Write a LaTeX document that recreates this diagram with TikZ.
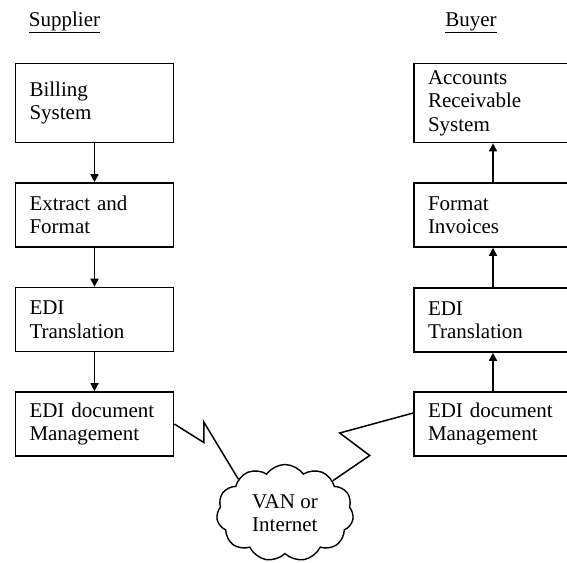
\documentclass[tikz,border=0pt]{standalone}
\usepackage{fontspec}
\setmainfont{Liberation Serif}
\usetikzlibrary{arrows.meta,shapes.symbols}

\begin{document}
\begin{tikzpicture}[x=1pt,y=-1pt,>={Triangle[length=8pt,width=8pt]},
    every node/.style={font=\fontsize{21}{23.5}\selectfont},
    box/.style={draw,line width=1.6pt,align=left,text width=130pt,inner xsep=14pt,inner ysep=2pt,minimum width=158pt,minimum height=64pt},
    tallbox/.style={box,minimum height=79pt},
    hdr/.style={inner sep=0pt}]
      \clip (0,0) rectangle (567,562);
      \node[hdr] (sup) at (64.5,22.5) {\underline{Supplier}};
      \node[hdr] (buy) at (471,22.5) {\underline{Buyer}};
      % supplier side
      \node[tallbox] (bill) at (94.5,103) {Billing\\System};
      \node[box] (extr) at (94.5,215) {Extract and\\Format};
      \node[box] (ltrans) at (94.5,319.5) {EDI\\Translation};
      \node[box] (lmgmt) at (94.5,424) {EDI document\\Management};
      % buyer side
      \node[tallbox] (acct) at (493,103) {Accounts\\Receivable\\System};
      \node[box] (fmt) at (493,215) {Format\\Invoices};
      \node[box] (rtrans) at (493,320) {EDI\\Translation};
      \node[box] (rmgmt) at (493,424) {EDI document\\Management};
      % network
      \node[cloud,draw,line width=1.4pt,cloud puffs=11,cloud puff arc=110,aspect=1.4,inner sep=0pt,
            minimum width=137pt,minimum height=97pt,align=left] (van) at (285,513) {VAN or\\Internet};
      \draw[->,line width=1.5pt] (bill)--(extr);
      \draw[->,line width=1.5pt] (extr)--(ltrans);
      \draw[->,line width=1.5pt] (ltrans)--(lmgmt);
      \draw[->,line width=1.5pt] (rmgmt)--(rtrans);
      \draw[->,line width=1.5pt] (rtrans)--(fmt);
      \draw[->,line width=1.5pt] (fmt)--(acct);
      \draw[line width=1.5pt] (lmgmt.east)--++(29.5,18.5)--++(0,-20.5)--(van.144);
      \draw[line width=1.5pt] ([yshift=11pt]rmgmt.west)--++(-73.5,20)--++(30,22.5)--(van.34);
    \end{tikzpicture}
\end{document}
